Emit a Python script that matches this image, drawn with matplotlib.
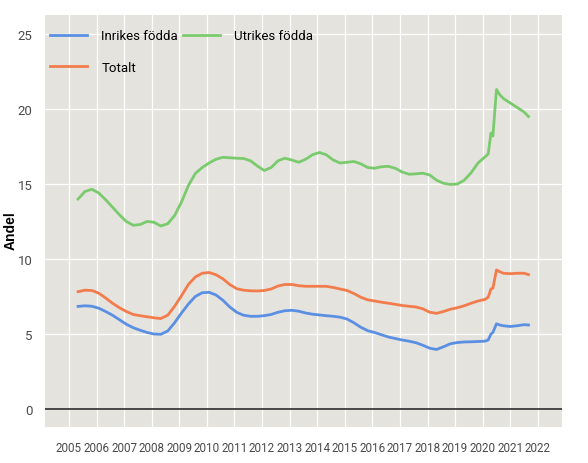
import matplotlib
matplotlib.use("Agg")
import matplotlib.pyplot as plt

# Andel per grupp, avläst ur referensbilden
years = [2005.33, 2005.58, 2005.83, 2006.08, 2006.33, 2006.58, 2006.83, 2007.08,
         2007.33, 2007.58, 2007.83, 2008.08, 2008.33, 2008.58, 2008.83, 2009.08,
         2009.33, 2009.58, 2009.83, 2010.08, 2010.33, 2010.58, 2010.83, 2011.08,
         2011.33, 2011.58, 2011.83, 2012.08, 2012.33, 2012.58, 2012.83, 2013.08,
         2013.33, 2013.58, 2013.83, 2014.08, 2014.33, 2014.58, 2014.83, 2015.08,
         2015.33, 2015.58, 2015.83, 2016.08, 2016.33, 2016.58, 2016.83, 2017.08,
         2017.33, 2017.58, 2017.83, 2018.08, 2018.33, 2018.58, 2018.83, 2019.08,
         2019.33, 2019.58, 2019.83, 2020.08, 2020.2, 2020.3, 2020.37, 2020.5,
         2020.62, 2020.75, 2021.0, 2021.25, 2021.5, 2021.66]

inrikes = [6.84, 6.88, 6.85, 6.72, 6.5, 6.25, 5.95, 5.65,
           5.42, 5.25, 5.1, 5.0, 4.98, 5.2, 5.75, 6.4,
           7.0, 7.5, 7.75, 7.78, 7.6, 7.25, 6.8, 6.45,
           6.25, 6.18, 6.18, 6.22, 6.3, 6.45, 6.55, 6.58,
           6.52, 6.4, 6.32, 6.27, 6.22, 6.18, 6.12, 6.0,
           5.75, 5.45, 5.22, 5.1, 4.95, 4.8, 4.7, 4.6,
           4.52, 4.42, 4.25, 4.05, 3.97, 4.15, 4.35, 4.43,
           4.47, 4.48, 4.5, 4.52, 4.6, 5.0, 5.1, 5.68,
           5.6, 5.55, 5.5, 5.55, 5.62, 5.6]

utrikes = [14.0, 14.5, 14.65, 14.4, 13.95, 13.45, 12.95, 12.5,
           12.25, 12.3, 12.5, 12.45, 12.2, 12.35, 12.9, 13.8,
           14.9, 15.7, 16.1, 16.4, 16.65, 16.78, 16.75, 16.72,
           16.7, 16.55, 16.2, 15.9, 16.1, 16.55, 16.72, 16.6,
           16.45, 16.65, 16.95, 17.1, 16.95, 16.6, 16.4, 16.45,
           16.5, 16.35, 16.1, 16.05, 16.15, 16.18, 16.05, 15.8,
           15.65, 15.68, 15.72, 15.6, 15.25, 15.05, 14.97, 15.0,
           15.25, 15.75, 16.4, 16.8, 17.0, 18.4, 18.2, 21.3,
           20.95, 20.7, 20.4, 20.1, 19.8, 19.5]

totalt = [7.82, 7.92, 7.9, 7.72, 7.4, 7.05, 6.75, 6.5,
          6.3, 6.22, 6.15, 6.08, 6.03, 6.25, 6.85, 7.55,
          8.3, 8.8, 9.05, 9.1, 8.95, 8.68, 8.3, 8.02,
          7.92, 7.88, 7.87, 7.9, 8.0, 8.2, 8.3, 8.3,
          8.22, 8.18, 8.18, 8.18, 8.18, 8.1, 8.0, 7.9,
          7.7, 7.45, 7.28, 7.2, 7.12, 7.05, 6.98, 6.9,
          6.85, 6.8, 6.68, 6.45, 6.38, 6.5, 6.65, 6.75,
          6.88, 7.05, 7.2, 7.3, 7.45, 8.0, 8.05, 9.27,
          9.15, 9.05, 9.02, 9.05, 9.05, 8.96]

x_ticks = list(range(2005, 2023))
y_ticks = [0, 5, 10, 15, 20, 25]

BLUE = "#5a8fe3"
GREEN = "#7acb6d"
ORANGE = "#f27c4c"
PANEL = "#e5e3dd"

font = ["Roboto", "DejaVu Sans"]

fig = plt.figure(figsize=(5.88, 4.64), dpi=100)
ax = fig.add_axes([0.0765, 0.0776, 0.879, 0.888])
ax.set_facecolor(PANEL)

ax.axhline(0, color="#3a3a3a", linewidth=1.3, zorder=2)
ax.plot(years, inrikes, color=BLUE, linewidth=2.0, label="Inrikes födda", zorder=3)
ax.plot(years, totalt, color=ORANGE, linewidth=2.0, label="Totalt", zorder=3)
ax.plot(years, utrikes, color=GREEN, linewidth=2.0, label="Utrikes födda", zorder=3)

ax.set_xlim(2004.13, 2022.87)
ax.set_ylim(-1.2, 26.27)
ax.set_xticks(x_ticks)
ax.set_yticks(y_ticks)
ax.set_xticklabels([str(y) for y in x_ticks], family=font, fontsize=8.4, color="#4a4a4a")
ax.set_yticklabels([str(y) for y in y_ticks], family=font, fontsize=9.5, color="#4a4a4a")
ax.tick_params(length=0)
ax.tick_params(axis="x", pad=10)
ax.tick_params(axis="y", pad=9)

ax.grid(True, color="white", linewidth=0.9)
ax.set_axisbelow(True)
for s in ax.spines.values():
    s.set_visible(False)

ax.set_ylabel("Andel", family="Liberation Sans", fontweight="bold", fontsize=10)
ax.yaxis.set_label_coords(-0.052, 0.48)

leg = ax.legend(loc="upper left", bbox_to_anchor=(0.0097, 0.965), ncol=2, frameon=False,
                prop={"family": font, "size": 9.5},
                handlelength=2.8, handletextpad=1.1, columnspacing=0.35,
                labelspacing=1.4, borderaxespad=0.0, borderpad=0.0)

fig.savefig("out.png", dpi=100)
